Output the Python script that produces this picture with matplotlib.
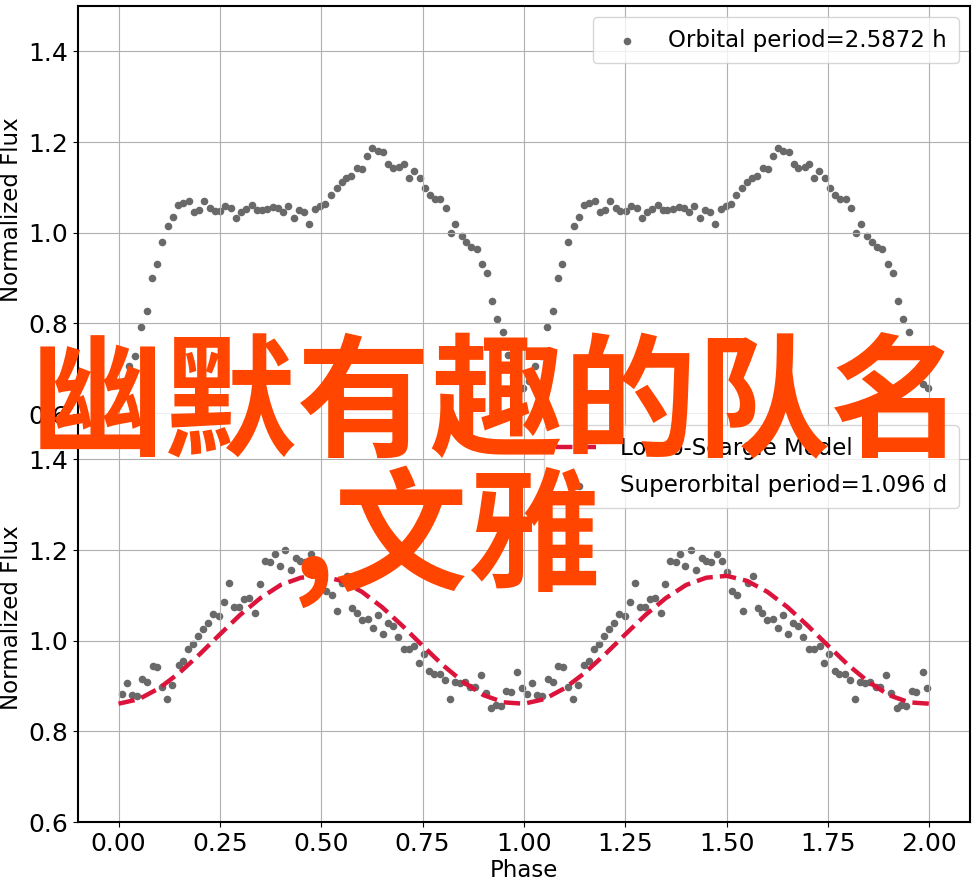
import numpy as np
import matplotlib
matplotlib.use("Agg")
import matplotlib.pyplot as plt

# folded light curve, orbital period (one cycle, repeated for phase 1-2)
orb_phase = np.array([0.013, 0.027, 0.041, 0.056, 0.071, 0.083, 0.095, 0.108, 0.123, 0.135,
                      0.147, 0.160, 0.174, 0.187, 0.199, 0.211, 0.226, 0.238, 0.251, 0.263,
                      0.278, 0.290, 0.303, 0.315, 0.330, 0.342, 0.354, 0.367, 0.382, 0.394,
                      0.406, 0.419, 0.433, 0.446, 0.458, 0.470, 0.485, 0.498, 0.510, 0.523,
                      0.538, 0.550, 0.562, 0.574, 0.589, 0.601, 0.613, 0.626, 0.640, 0.653,
                      0.665, 0.677, 0.692, 0.704, 0.716, 0.728, 0.743, 0.755, 0.768, 0.780,
                      0.794, 0.807, 0.819, 0.831, 0.846, 0.858, 0.870, 0.883, 0.897, 0.909,
                      0.922, 0.934, 0.949, 0.961, 0.972, 0.984, 0.997])
orb_flux = np.array([0.672, 0.705, 0.728, 0.793, 0.827, 0.899, 0.932, 0.980, 1.015, 1.035,
                     1.062, 1.066, 1.070, 1.045, 1.051, 1.070, 1.055, 1.048, 1.047, 1.059,
                     1.055, 1.033, 1.046, 1.053, 1.060, 1.051, 1.049, 1.053, 1.057, 1.054,
                     1.045, 1.059, 1.033, 1.049, 1.046, 1.020, 1.053, 1.059, 1.064, 1.084,
                     1.099, 1.112, 1.121, 1.125, 1.143, 1.141, 1.169, 1.187, 1.180, 1.178,
                     1.152, 1.143, 1.145, 1.152, 1.121, 1.136, 1.121, 1.099, 1.084, 1.075,
                     1.075, 1.055, 1.000, 1.020, 0.993, 0.980, 0.969, 0.963, 0.932, 0.912,
                     0.849, 0.810, 0.781, 0.730, 0.681, 0.667, 0.657])

# folded light curve, superorbital period
sup_phase = np.array([0.008, 0.020, 0.033, 0.045, 0.059, 0.071, 0.084, 0.096, 0.108, 0.120,
                      0.133, 0.148, 0.160, 0.172, 0.184, 0.197, 0.209, 0.221, 0.234, 0.248,
                      0.261, 0.273, 0.285, 0.298, 0.310, 0.322, 0.337, 0.349, 0.361, 0.374,
                      0.386, 0.398, 0.411, 0.425, 0.438, 0.448, 0.461, 0.475, 0.488, 0.500,
                      0.512, 0.526, 0.539, 0.552, 0.564, 0.576, 0.588, 0.600, 0.615, 0.627,
                      0.640, 0.652, 0.664, 0.677, 0.689, 0.704, 0.716, 0.729, 0.741, 0.753,
                      0.766, 0.778, 0.793, 0.805, 0.817, 0.830, 0.842, 0.854, 0.868, 0.879,
                      0.894, 0.906, 0.919, 0.931, 0.943, 0.956, 0.968, 0.983, 0.995])
sup_flux = np.array([0.883, 0.907, 0.880, 0.878, 0.916, 0.909, 0.945, 0.942, 0.898, 0.872,
                     0.903, 0.947, 0.956, 0.982, 0.993, 1.010, 1.026, 1.039, 1.059, 1.054,
                     1.085, 1.127, 1.074, 1.074, 1.092, 1.094, 1.061, 1.125, 1.175, 1.173,
                     1.192, 1.164, 1.199, 1.155, 1.182, 1.175, 1.173, 1.192, 1.175, 1.151,
                     1.110, 1.100, 1.065, 1.127, 1.143, 1.073, 1.061, 1.045, 1.048, 1.028,
                     1.056, 1.015, 1.039, 1.032, 1.008, 0.982, 0.982, 0.988, 0.951, 0.971,
                     0.933, 0.927, 0.927, 0.914, 0.872, 0.909, 0.907, 0.909, 0.897, 0.898,
                     0.925, 0.885, 0.852, 0.859, 0.856, 0.889, 0.887, 0.931, 0.896])

# Lomb-Scargle model
model_phase = np.array([0.00, 0.05, 0.10, 0.15, 0.20, 0.25, 0.30, 0.35, 0.40, 0.45, 0.50,
                        0.55, 0.60, 0.65, 0.70, 0.75, 0.80, 0.85, 0.90, 0.95, 1.00])
model_flux = np.array([0.861, 0.871, 0.895, 0.929, 0.970, 1.014, 1.057, 1.094, 1.123, 1.139,
                       1.143, 1.132, 1.108, 1.074, 1.033, 0.989, 0.946, 0.909, 0.880, 0.864,
                       0.861])

orb_label = "Orbital period=2.5872 h"
sup_label = "Superorbital period=1.096 d"
model_label = "Lomb-Scargle Model"
overlay_1 = "幽默有趣的队名"
overlay_2 = ",文雅"

dot_color = "#696969"

fig = plt.figure(figsize=(9.77, 8.86), dpi=100)
ax1 = fig.add_axes([0.0798, 0.5327, 0.913, 0.4605])
ax2 = fig.add_axes([0.0798, 0.0722, 0.913, 0.4605], sharex=ax1)

# top panel
ph = np.concatenate([orb_phase, orb_phase + 1])
fl = np.concatenate([orb_flux, orb_flux])
ax1.scatter(ph, fl, s=20, color=dot_color, label=orb_label)
ax1.legend(loc="upper right", fontsize=16.5, borderpad=0.5, labelspacing=0.6)

# bottom panel
mph = np.concatenate([model_phase, model_phase[1:] + 1])
mfl = np.concatenate([model_flux, model_flux[1:]])
ax2.plot(mph, mfl, "--", color="crimson", lw=3.2, label=model_label)
ph = np.concatenate([sup_phase, sup_phase + 1])
fl = np.concatenate([sup_flux, sup_flux])
ax2.scatter(ph, fl, s=20, color=dot_color, label=sup_label)
ax2.legend(loc="upper right", fontsize=16.5, borderpad=0.5, labelspacing=0.6)

for ax in (ax1, ax2):
    ax.set_ylim(0.6, 1.5)
    ax.set_yticks([0.6, 0.8, 1.0, 1.2, 1.4])
    ax.set_ylabel("Normalized Flux", fontsize=16.5)
    ax.tick_params(labelsize=18)
    ax.grid(True)
    for s in ax.spines.values():
        s.set_linewidth(1.5)

ax1.set_xlim(-0.1, 2.1)
ax1.tick_params(labelbottom=False)
ax1.spines["bottom"].set_linewidth(0.8)
ax2.spines["top"].set_visible(False)
ax2.set_xlabel("Phase", fontsize=16.5, labelpad=2)

cjk = ["Noto Sans CJK SC", "DejaVu Sans"]
fig.text(0.5087, 0.4977, overlay_1, family=cjk, weight="bold", fontsize=96,
         color="#ff4500", ha="center", va="baseline", zorder=10)
fig.text(0.4575, 0.3454, overlay_2, family=cjk, weight="bold", fontsize=96,
         color="#ff4500", ha="center", va="baseline", zorder=10)

fig.savefig("out.png", dpi=100)
